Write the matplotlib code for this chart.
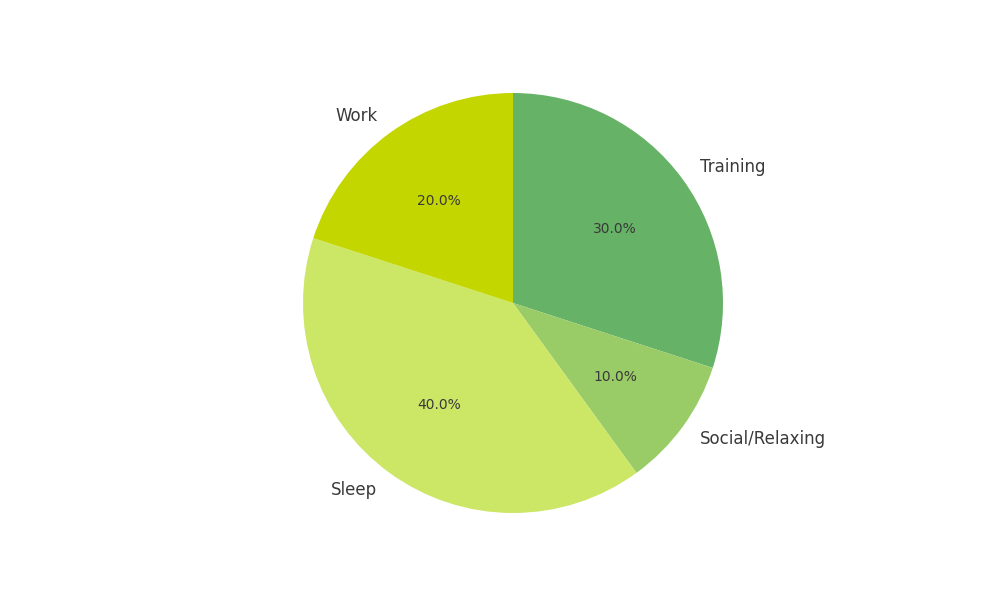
import matplotlib
matplotlib.use("Agg")
import matplotlib.pyplot as plt

# data
activities = ["Training", "Social/Relaxing", "Sleep", "Work"]
shares = [30, 10, 40, 20]
colors = ["#66b266", "#99cc66", "#cce666", "#c4d600"]

fig = plt.figure(figsize=(10, 6), dpi=100)
ax = fig.add_axes([0.2505, 0.0575, 0.525, 0.875])

wedges, texts, autotexts = ax.pie(
    shares, labels=activities, colors=colors, autopct="%1.1f%%",
    startangle=90, counterclock=False,
    textprops={"color": "#3a3a3a"},
)
for t in texts:
    t.set_fontsize(12)
for t in autotexts:
    t.set_fontsize(10)
ax.set_aspect("equal")

fig.savefig("out.png")
